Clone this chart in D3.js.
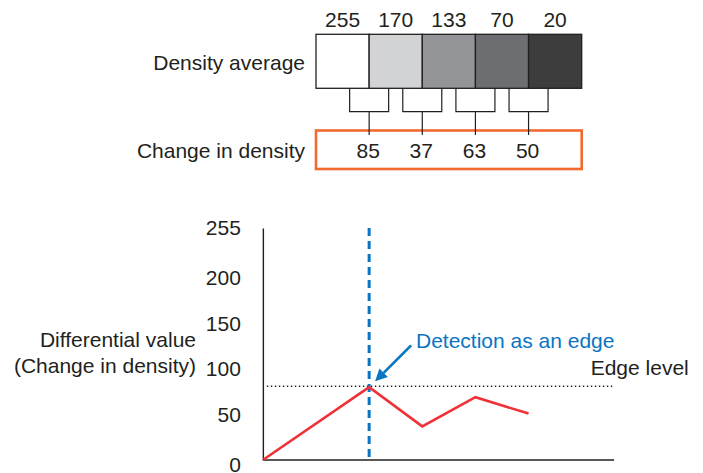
<!DOCTYPE html>
<html>
<head>
<meta charset="utf-8">
<script src="https://cdn.jsdelivr.net/npm/d3@7"></script>
<style>
  html, body { margin: 0; padding: 0; background: #fff; }
  svg { display: block; }
  text { font-family: "Liberation Sans", Arial, sans-serif; font-size: 21px; fill: #231f20; }
</style>
</head>
<body>
<svg id="chart" width="703" height="473"></svg>
<script>
// ---- data ----
const densityAverage = [255, 170, 133, 70, 20];
const cellColors = ["#ffffff", "#d1d3d4", "#939598", "#6d6e71", "#3d3d3e"];
const densityChange = [85, 37, 63, 50];
const linePos = [-1, 1, 2, 3, 4];
const lineValues = [0, 80, 37, 69, 51];
const edgeLevel = 81;
const yTicks = [0, 50, 100, 150, 200, 255];
const detectionPos = 1;

const ink = "#231f20";
const svg = d3.select("#chart");

// shared horizontal scale (cell units)
const x = d3.scaleLinear().domain([0, 5]).range([316, 581.7]);
const y = d3.scaleLinear().domain([0, 255]).range([460, 228]);

// ---- top: density cells ----
const cellTop = 34.3, cellBottom = 88.3;
const cells = svg.append("g");
cells.selectAll("rect").data(densityAverage).join("rect")
  .attr("x", (d, i) => x(i)).attr("y", cellTop)
  .attr("width", x(1) - x(0)).attr("height", cellBottom - cellTop)
  .attr("fill", (d, i) => cellColors[i])
  .attr("stroke", ink).attr("stroke-width", 1.3);
cells.selectAll("text").data(densityAverage).join("text")
  .attr("x", (d, i) => x(i + 0.5)).attr("y", 27)
  .attr("text-anchor", "middle").text(d => d);

svg.append("text").attr("x", 305).attr("y", 69.5).attr("text-anchor", "end").text("Density average");
svg.append("text").attr("x", 305).attr("y", 158.3).attr("text-anchor", "end").text("Change in density");

// orange box
svg.append("rect").attr("x", x(0)).attr("y", 130.5)
  .attr("width", x(5) - x(0)).attr("height", 38.5)
  .attr("fill", "none").attr("stroke", "#f26a2e").attr("stroke-width", 2.6);

// brackets
const br = svg.append("g").attr("fill", "none").attr("stroke", ink).attr("stroke-width", 1.2);
const half = 0.367, bracketY = 111.7, stemEnd = 135;
densityChange.forEach((d, i) => {
  const c = x(i + 1);
  br.append("path").attr("d",
    `M${x(i + 1 - half)},${cellBottom}V${bracketY}H${x(i + 1 + half)}V${cellBottom}`);
  br.append("path").attr("d", `M${c},${bracketY}V${stemEnd}`);
});
svg.append("g").selectAll("text").data(densityChange).join("text")
  .attr("x", (d, i) => x(i + 1) - 1).attr("y", 158.3)
  .attr("text-anchor", "middle").text(d => d);

// ---- bottom chart ----
const xAxisEnd = 5.61;
const yAxis = d3.axisLeft(y).tickValues(yTicks).tickSize(0).tickPadding(22).tickSizeOuter(0);
const gy = svg.append("g").attr("transform", `translate(${x(-1)},0)`).call(yAxis);
gy.select(".domain").attr("stroke", ink).attr("stroke-width", 1.4);
gy.selectAll("text").attr("font-size", 21).attr("font-family", "Liberation Sans, Arial, sans-serif").attr("fill", ink);
gy.selectAll(".tick text").filter(d => d === 0).attr("dy", "0.55em");

svg.append("line").attr("x1", x(-1)).attr("x2", x(xAxisEnd))
  .attr("y1", y(0)).attr("y2", y(0)).attr("stroke", ink).attr("stroke-width", 1.4);

// y label
svg.append("text").attr("x", 196).attr("y", 346.7).attr("text-anchor", "end").text("Differential value");
svg.append("text").attr("x", 196).attr("y", 373.3).attr("text-anchor", "end").text("(Change in density)");

// edge level dotted line
svg.append("line").attr("x1", x(-1) + 4).attr("x2", x(xAxisEnd))
  .attr("y1", y(edgeLevel)).attr("y2", y(edgeLevel))
  .attr("stroke", ink).attr("stroke-width", 1.6).attr("stroke-dasharray", "1.4,2.6");
svg.append("text").attr("x", 590.7).attr("y", 375).text("Edge level");

// detection dashed line
svg.append("line").attr("x1", x(detectionPos)).attr("x2", x(detectionPos))
  .attr("y1", 228).attr("y2", y(0))
  .attr("stroke", "#0a75c2").attr("stroke-width", 3).attr("stroke-dasharray", "8,5");

// red line
const line = d3.line().x((d, i) => x(linePos[i])).y(d => y(d));
svg.append("path").datum(lineValues).attr("d", line)
  .attr("fill", "none").attr("stroke", "#ee3238").attr("stroke-width", 2.6).attr("stroke-linejoin", "miter");

// arrow annotation
const tipX = x(detectionPos) + 6, tipY = y(edgeLevel) - 5;
const startX = x(detectionPos) + 42, startY = y(edgeLevel) - 41;
const ang = Math.atan2(tipY - startY, tipX - startX);
const headLen = 12, headW = 6;
const bx = tipX - headLen * Math.cos(ang), by = tipY - headLen * Math.sin(ang);
svg.append("line").attr("x1", startX).attr("y1", startY).attr("x2", bx).attr("y2", by)
  .attr("stroke", "#0a75c2").attr("stroke-width", 2.6);
svg.append("path").attr("d",
  `M${tipX},${tipY}L${bx + headW * Math.sin(ang)},${by - headW * Math.cos(ang)}L${bx - headW * Math.sin(ang)},${by + headW * Math.cos(ang)}Z`)
  .attr("fill", "#0a75c2");
svg.append("text").attr("x", 416).attr("y", 348.3).style("fill", "#0a75c2").text("Detection as an edge");
</script>
</body>
</html>
